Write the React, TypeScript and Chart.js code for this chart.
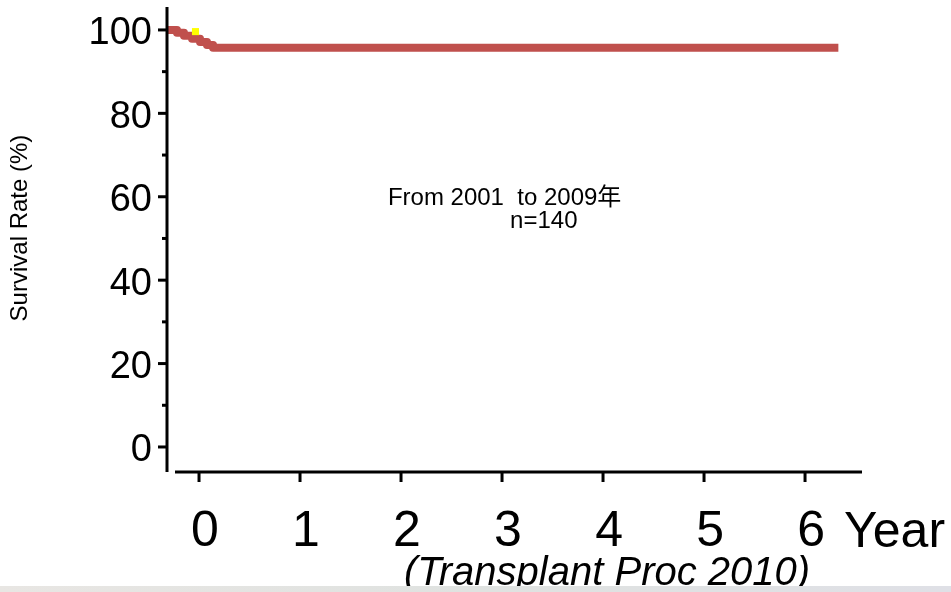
import { useEffect, useRef } from "react";
import { Chart, registerables } from "chart.js";

Chart.register(...registerables);

// ---- data ----
const survivalYears = [-0.317, -0.218, -0.149, -0.069, 0.01, 0.079, 0.139, 6.33];
const survivalRates = [100, 99.3, 98.6, 97.9, 97.1, 96.4, 95.7, 95.7];
const censorYears = [-0.035];
const censorRates = [99.6];
const xTickValues = [0, 1, 2, 3, 4, 5, 6];
const yMajorTicks = [0, 20, 40, 60, 80, 100];
const yMinorTicks = [10, 30, 50, 70, 90];
const noteLines = ["From 2001  to 2009年", "n=140"];
const xAxisUnit = "Year";
const sourceNote = "(Transplant Proc 2010)";
const yAxisTitle = "Survival Rate (%)";

const FONT = "'Liberation Sans', Arial, 'Noto Sans CJK JP', sans-serif";

const decorPlugin = {
  id: "decor",
  afterDraw(chart: any) {
    const { ctx, chartArea, scales } = chart;
    const x = scales.x;
    const y = scales.y;
    ctx.save();
    ctx.strokeStyle = "#000";
    ctx.lineWidth = 3;
    ctx.lineCap = "butt";
    // y axis line
    ctx.beginPath();
    ctx.moveTo(chartArea.left, chartArea.top);
    ctx.lineTo(chartArea.left, chartArea.bottom);
    ctx.stroke();
    // x axis line (small gap at the corner)
    ctx.beginPath();
    ctx.moveTo(chartArea.left + 8, chartArea.bottom);
    ctx.lineTo(chartArea.right, chartArea.bottom);
    ctx.stroke();
    // y ticks
    yMajorTicks.forEach((v) => {
      const py = y.getPixelForValue(v);
      ctx.beginPath();
      ctx.moveTo(chartArea.left - 9, py);
      ctx.lineTo(chartArea.left, py);
      ctx.stroke();
    });
    yMinorTicks.forEach((v) => {
      const py = y.getPixelForValue(v);
      ctx.beginPath();
      ctx.moveTo(chartArea.left - 5, py);
      ctx.lineTo(chartArea.left, py);
      ctx.stroke();
    });
    // x ticks
    xTickValues.forEach((v) => {
      const px = x.getPixelForValue(v);
      ctx.beginPath();
      ctx.moveTo(px, chartArea.bottom);
      ctx.lineTo(px, chartArea.bottom + 10);
      ctx.stroke();
    });

    ctx.fillStyle = "#000";

    // y axis title
    ctx.save();
    ctx.translate(20, y.getPixelForValue(52.5));
    ctx.rotate(-Math.PI / 2);
    ctx.font = `24px ${FONT}`;
    ctx.textAlign = "center";
    ctx.textBaseline = "middle";
    ctx.fillText(yAxisTitle, 0, 0);
    ctx.restore();

    // annotation text
    ctx.font = `24px ${FONT}`;
    ctx.textAlign = "left";
    ctx.textBaseline = "middle";
    ctx.fillText(noteLines[0], x.getPixelForValue(1.87), y.getPixelForValue(59.7));
    ctx.fillText(noteLines[1], x.getPixelForValue(3.08), y.getPixelForValue(54.2));

    // unit label next to last tick
    ctx.font = `50px ${FONT}`;
    ctx.textBaseline = "alphabetic";
    ctx.fillText(xAxisUnit, x.getPixelForValue(6) + 39, 547);

    // source note
    ctx.font = `italic 40px ${FONT}`;
    ctx.textAlign = "center";
    ctx.fillText(sourceNote, x.getPixelForValue(4.04), 585);

    // bottom band of the slide
    const g = ctx.createLinearGradient(0, 0, chart.width, 0);
    g.addColorStop(0, "#e8e6e3");
    g.addColorStop(0.5, "#dfe2e0");
    g.addColorStop(1, "#dfe0e6");
    ctx.fillStyle = g;
    ctx.fillRect(0, 586, chart.width, chart.height - 586);
    ctx.restore();
  },
};

export default function App() {
  const canvasRef = useRef<HTMLCanvasElement | null>(null);

  useEffect(() => {
    if (!canvasRef.current) return;
    const chart = new Chart(canvasRef.current, {
      type: "line",
      data: {
        datasets: [
          {
            label: "censored",
            data: censorYears.map((v, i) => ({ x: v, y: censorRates[i] })),
            showLine: false,
            pointStyle: "rect",
            pointRadius: 5,
            pointBackgroundColor: "#ffff00",
            pointBorderWidth: 0,
            order: 0,
          },
          {
            label: "survival",
            data: survivalYears.map((v, i) => ({ x: v, y: survivalRates[i] })),
            stepped: true,
            borderColor: "#c0504d",
            borderWidth: 8,
            borderJoinStyle: "round",
            pointRadius: 0,
            fill: false,
            order: 1,
          },
        ],
      },
      options: {
        responsive: false,
        animation: false,
        devicePixelRatio: 1,
        layout: { padding: { left: 0, top: 7, right: 89, bottom: 0 } },
        plugins: {
          legend: { display: false },
          tooltip: { enabled: false },
        },
        scales: {
          x: {
            type: "linear",
            min: -0.317,
            max: 6.564,
            grid: { display: false },
            border: { display: false },
            ticks: {
              stepSize: 1,
              includeBounds: false,
              padding: 22,
              labelOffset: 6,
              color: "#000",
              font: { size: 50, family: FONT },
              maxRotation: 0,
              autoSkip: false,
            },
            afterFit: (s: any) => {
              s.height = 120;
              s.paddingLeft = 0;
              s.paddingRight = 0;
            },
          },
          y: {
            type: "linear",
            min: -6,
            max: 105.5,
            grid: { display: false },
            border: { display: false },
            ticks: {
              stepSize: 20,
              includeBounds: false,
              padding: 7,
              labelOffset: 4,
              color: "#000",
              font: { size: 38, family: FONT },
            },
            afterFit: (s: any) => {
              s.width = 167;
              s.paddingTop = 0;
              s.paddingBottom = 0;
            },
          },
        },
      },
      plugins: [decorPlugin],
    });
    return () => chart.destroy();
  }, []);

  return (
    <div style={{ position: "absolute", left: 0, top: 0, width: 951, height: 592, background: "#fff" }}>
      <canvas ref={canvasRef} width={951} height={592} style={{ display: "block" }} />
    </div>
  );
}
